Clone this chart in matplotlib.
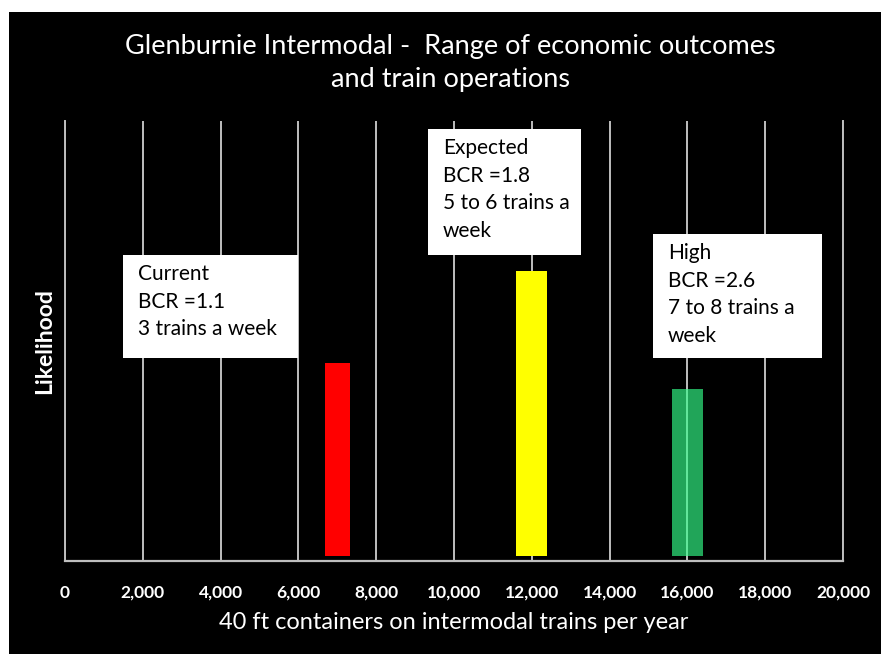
import matplotlib
matplotlib.use("Agg")
import matplotlib.pyplot as plt
from matplotlib.patches import Rectangle

# Scenario data
scenarios = ["Current", "Expected", "High"]
containers = [7000, 12000, 16000]
likelihood = [0.45, 0.66, 0.39]
bar_widths = [650, 800, 800]
bar_colors = ["#ff0000", "#ffff00", "#34ff8a"]
bar_alphas = [1.0, 1.0, 0.65]
bcr = [1.1, 1.8, 2.6]
trains = ["3 trains a week", "5 to 6 trains a\nweek", "7 to 8 trains a\nweek"]

x_ticks = list(range(0, 20001, 2000))
x_tick_labels = [f"{v:,}" for v in x_ticks]

plt.rcParams["font.family"] = ["Lato", "DejaVu Sans"]

fig = plt.figure(figsize=(8.81, 6.54), dpi=100)
fig.patch.set_facecolor("white")

# dark panel behind the chart
fig.patches.append(Rectangle((9 / 881, 0), 1 - 9 / 881, (654 - 12) / 654,
                             transform=fig.transFigure, facecolor="black",
                             edgecolor="none", zorder=-5))

ax = fig.add_axes([65 / 881, (654 - 561) / 654, (843 - 65) / 881, (561 - 121) / 654])
ax.set_zorder(1)
ax.set_facecolor("none")
ax.set_xlim(0, 20000)
ax.set_ylim(0, 1)

grid_col = "#bfbfbf"
ax.set_xticks(x_ticks)
ax.set_xticklabels(x_tick_labels, color="white", fontsize=12.5, fontweight="bold")
ax.tick_params(axis="x", length=0, pad=17)
ax.set_yticks([])
ax.grid(axis="x", color=grid_col, linewidth=1.4, zorder=1)
ax.set_axisbelow(True)
ax.spines["top"].set_visible(False)
for side in ["left", "right"]:
    ax.spines[side].set_color(grid_col)
    ax.spines[side].set_linewidth(1.4)
ax.spines["bottom"].set_color(grid_col)
ax.spines["bottom"].set_linewidth(1.6)

base = 0.012
for x, h, w, c, a in zip(containers, likelihood, bar_widths, bar_colors, bar_alphas):
    ax.bar(x, h - base, width=w, bottom=base, color=c, alpha=a, zorder=2)

ax.set_xlabel("40 ft containers on intermodal trains per year", color="white",
              fontsize=17, labelpad=8)
ax.set_ylabel("Likelihood", color="white", fontsize=16.5, fontweight="bold", labelpad=7)

# annotation boxes, pixel extents (left, top, right, bottom)
box_pos = [(123, 255, 298, 358), (428, 129, 581, 255), (653, 234, 822, 358)]
for (x0, y0, x1, y1), name, b, t in zip(box_pos, scenarios, bcr, trains):
    fx0, fx1 = x0 / 881, x1 / 881
    fy0, fy1 = 1 - y1 / 654, 1 - y0 / 654
    fig.patches.append(Rectangle((fx0, fy0), fx1 - fx0, fy1 - fy0,
                                 transform=fig.transFigure, facecolor="white",
                                 edgecolor="none", zorder=3))
    fig.text((x0 + 15) / 881, 1 - (y0 + 9) / 654, f"{name}\nBCR ={b}\n{t}",
             ha="left", va="top", fontsize=15, color="black",
             linespacing=1.47, zorder=4)

fig.text(450 / 881, 1 - 63 / 654,
         "Glenburnie Intermodal -  Range of economic outcomes\nand train operations",
         ha="center", va="center", color="white", fontsize=19.5, linespacing=1.42)

fig.savefig("out.png", dpi=100, facecolor=fig.get_facecolor())
